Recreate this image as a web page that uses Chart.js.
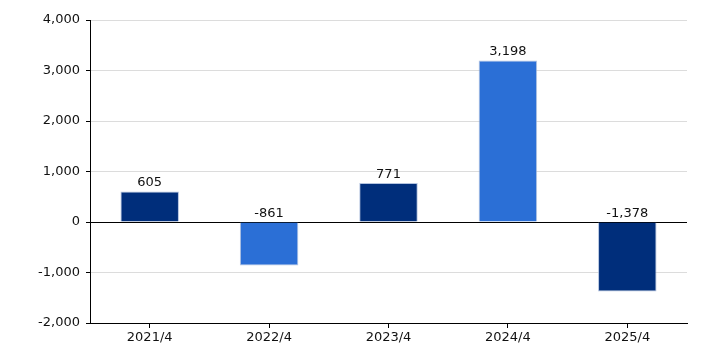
<!DOCTYPE html>
<html>
<head>
<meta charset="utf-8">
<script src="https://cdn.jsdelivr.net/npm/chart.js@4"></script>
<style>
  html, body { margin: 0; padding: 0; background: #fff; }
  #wrap { width: 706px; height: 353px; }
</style>
</head>
<body>
<div id="wrap"><canvas id="cfChart" width="706" height="353"></canvas></div>
<script>
var periods = ['2021/4', '2022/4', '2023/4', '2024/4', '2025/4'];
var values = [605, -861, 771, 3198, -1378];
var barColors = ['#002e7b', '#2b6fd6', '#002e7b', '#2b6fd6', '#002e7b'];

function fmt(v){
    return Number(v).toLocaleString('en-US');
}

// value labels over each bar (at the zero line for negatives)
const barLabels = {
    id: 'barLabels',
    afterDatasetsDraw(chart){
        const c = chart.ctx;
        const meta = chart.getDatasetMeta(0);
        const yScale = chart.scales.y;
        c.save();
        c.font = '13px "DejaVu Sans", Verdana, sans-serif';
        c.fillStyle = '#111';
        c.textAlign = 'center';
        c.textBaseline = 'bottom';
        meta.data.forEach(function(bar, i){
            var top = yScale.getPixelForValue(Math.max(values[i], 0));
            c.fillText(fmt(values[i]), bar.x, top - 2);
        });
        c.restore();
    }
};

const config = {
    type: 'bar',
    data: {
        labels: periods,
        datasets: [{
            data: values,
            backgroundColor: barColors,
            borderColor: 'rgba(160,180,215,0.8)',
            borderWidth: 1,
            barPercentage: 0.49,
            categoryPercentage: 1
        }]
    },
    options: {
        responsive: false,
        animation: false,
        layout: {
            padding: { top: 20, right: 19, bottom: 0, left: 0 }
        },
        plugins: {
            legend: { display: false },
            tooltip: { enabled: false }
        },
        scales: {
            x: {
                afterFit: function(scale){ scale.height = 30; },
                grid: {
                    drawOnChartArea: false,
                    offset: false,
                    tickLength: 5,
                    tickColor: '#000'
                },
                border: { color: '#000', width: 1 },
                ticks: {
                    color: '#111',
                    padding: 2,
                    font: { family: '"DejaVu Sans", Verdana, sans-serif', size: 13 }
                }
            },
            y: {
                min: -2000,
                max: 4000,
                afterFit: function(scale){ scale.width = 90; },
                grid: {
                    color: function(ctx){
                        if (ctx.tick && ctx.tick.value === 0) return '#000';
                        return '#dcdcdc';
                    },
                    tickLength: 4,
                    tickColor: '#000'
                },
                border: { color: '#000', width: 1 },
                ticks: {
                    stepSize: 1000,
                    color: '#111',
                    padding: 6,
                    font: { family: '"DejaVu Sans", Verdana, sans-serif', size: 13 },
                    callback: function(v){ return fmt(v); }
                }
            }
        }
    },
    plugins: [barLabels]
};

const chart = new Chart(document.getElementById('cfChart'), config);
</script>
</body>
</html>
